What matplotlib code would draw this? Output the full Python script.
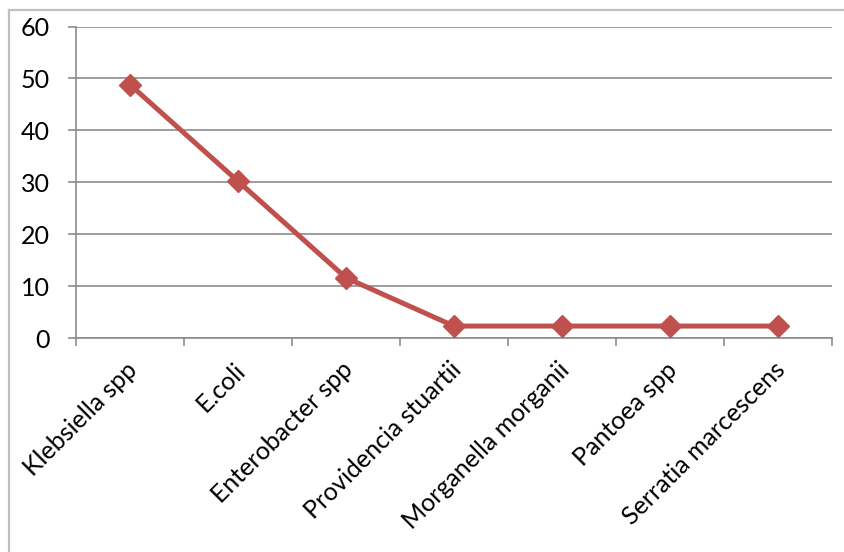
import matplotlib
matplotlib.use("Agg")
import matplotlib.pyplot as plt
import matplotlib.transforms as mtransforms
from matplotlib.lines import Line2D

categories = ["Klebsiella spp", "E.coli", "Enterobacter spp", "Providencia stuartii",
              "Morganella morganii", "Pantoea spp", "Serratia marcescens"]
values = [48.8, 30.2, 11.6, 2.3, 2.3, 2.3, 2.3]
y_ticks = [0, 10, 20, 30, 40, 50, 60]

plt.rcParams['font.family'] = ['Lato', 'DejaVu Sans']

W, H = 845, 552
fig = plt.figure(figsize=(W / 100, H / 100), dpi=100)

# chart-area border (top and left edges)
border_col = "#BFBFBF"
fig.lines.append(Line2D([9 / W, 1.0], [(H - 10) / H] * 2, transform=fig.transFigure,
                        color=border_col, linewidth=1.6))
fig.lines.append(Line2D([9 / W] * 2, [0.0, (H - 10) / H], transform=fig.transFigure,
                        color=border_col, linewidth=1.6))

left, right, bottom, top = 76, 832, 338, 26.5
ax = fig.add_axes([left / W, (H - bottom) / H, (right - left) / W, (bottom - top) / H])

grid_col = "#8C8C8C"
n = len(categories)
x = list(range(n))
ax.plot(x, values, color="#C0504D", linewidth=3.6, marker="D", markersize=11,
        markeredgecolor="#C0504D", markerfacecolor="#C0504D", zorder=3, clip_on=False)

ax.set_xlim(-0.5, n - 0.5)
ax.set_ylim(0, 60)
ax.set_yticks(y_ticks)
ax.set_yticklabels([str(v) for v in y_ticks], fontsize=18)
ax.yaxis.grid(True, color=grid_col, linewidth=1.2)
ax.set_axisbelow(True)

# category boundaries as tick positions
ax.set_xticks([i - 0.5 for i in range(n + 1)])
ax.set_xticklabels([])
ax.tick_params(axis="x", direction="out", length=6, width=1.2, color=grid_col)
ax.tick_params(axis="y", direction="out", length=6, width=1.2, color=grid_col, pad=13)

for s in ["top", "right"]:
    ax.spines[s].set_visible(False)
for s in ["left", "bottom"]:
    ax.spines[s].set_color(grid_col)
    ax.spines[s].set_linewidth(1.2)

offset = mtransforms.ScaledTranslation(-5 / 100, -20 / 100, fig.dpi_scale_trans)
for i, lab in enumerate(categories):
    ax.text(i, 0, lab, rotation=45, ha="right", va="top", rotation_mode="anchor",
            fontsize=18, transform=ax.get_xaxis_transform() + offset)

fig.savefig("out.png", dpi=100, facecolor="white")
